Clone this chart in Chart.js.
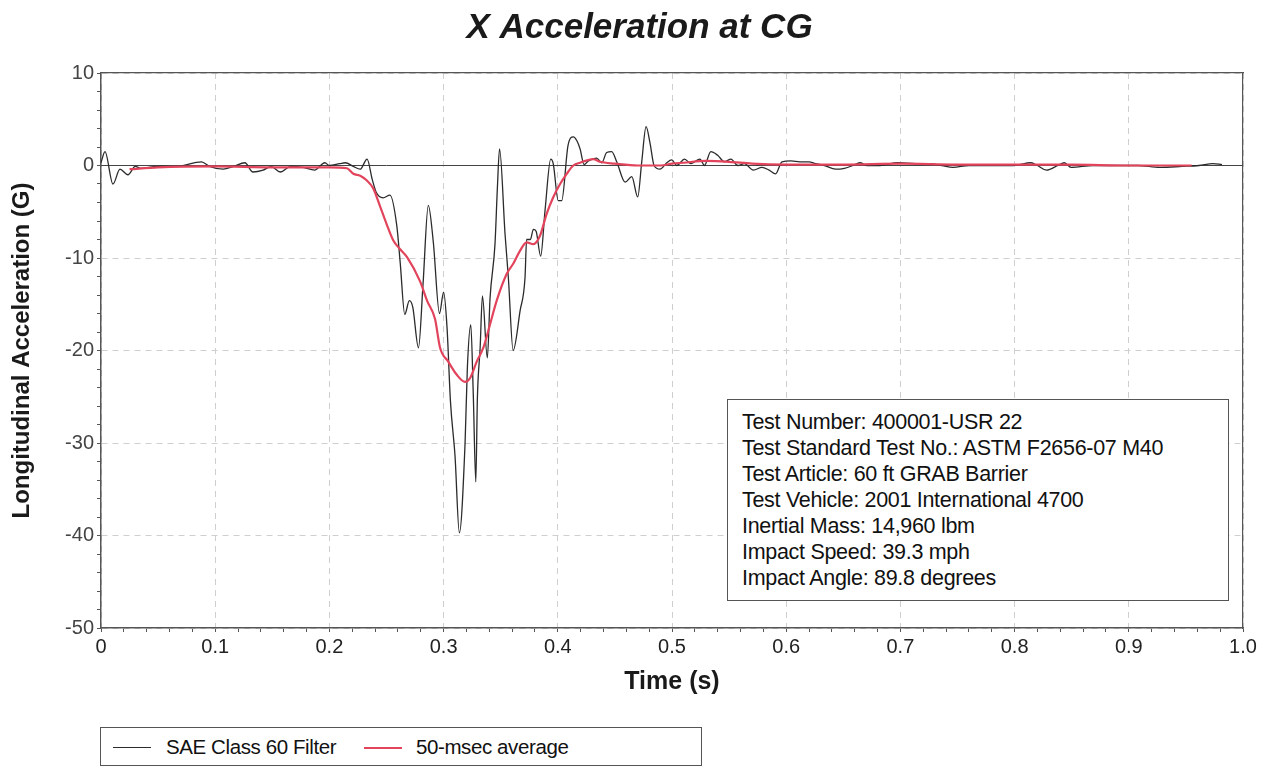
<!DOCTYPE html>
<html>
<head>
<meta charset="utf-8">
<script src="https://cdn.jsdelivr.net/npm/chart.js@4.4.1/dist/chart.umd.min.js"></script>
<style>
  html, body { margin: 0; padding: 0; background: #fff; }
  #wrap { position: relative; width: 1271px; height: 768px; font-family: "Liberation Sans", Arial, sans-serif; }
  #chart { position: absolute; left: 0; top: 0; }
  #info { position: absolute; left: 727px; top: 399px; width: 486px; height: 191px; border: 1px solid #555; background: #fff;
          padding: 9px 0 0 14px; box-sizing: content-box; font-size: 21.5px; line-height: 26px; color: #111; letter-spacing: -0.3px; }
  #info div { white-space: nowrap; }
  #legend { position: absolute; left: 100px; top: 727px; width: 600px; height: 37px; border: 1px solid #555; background: #fff;
            font-size: 20.5px; color: #111; letter-spacing: -0.4px; }
  .li { position: absolute; top: 0; height: 37px; line-height: 37px; white-space: nowrap; }
  .sw { position: absolute; top: 19px; width: 38px; }
</style>
</head>
<body>
<div id="wrap">
  <canvas id="chart" width="1271" height="768"></canvas>
  <div id="info"></div>
  <div id="legend"></div>
</div>
<script>
// ---- Data ----
const chartTitle = "X Acceleration at CG";
const xAxisTitle = "Time (s)";
const yAxisTitle = "Longitudinal Acceleration (G)";
const xTickLabels = ["0", "0.1", "0.2", "0.3", "0.4", "0.5", "0.6", "0.7", "0.8", "0.9", "1.0"];
const yTickLabels = ["-50", "-40", "-30", "-20", "-10", "0", "10"];
const seriesNames = ["SAE Class 60 Filter", "50-msec average"];

const blackTime = [0.000,0.0035,0.0105,0.0166,0.0236,0.030,0.035,0.049,0.066,0.088,0.095,0.107,0.116,0.126,0.133,0.142,0.149,0.157,0.166,0.177,0.187,0.196,0.200,0.209,0.214,0.221,0.227,0.233,0.2375,0.241,0.247,0.253,0.259,0.262,0.266,0.270,0.273,0.278,0.282,0.2866,0.291,0.2964,0.300,0.303,0.306,0.310,0.3138,0.3188,0.3208,0.3238,0.3260,0.3282,0.3296,0.332,0.334,0.3383,0.3407,0.345,0.3471,0.349,0.3538,0.3567,0.3609,0.367,0.3713,0.3727,0.376,0.3786,0.381,0.385,0.3888,0.3938,0.396,0.4004,0.4034,0.409,0.4136,0.4166,0.4195,0.423,0.4268,0.434,0.4385,0.4428,0.4472,0.4516,0.459,0.4648,0.470,0.4735,0.4773,0.4808,0.4843,0.4895,0.4954,0.4998,0.5042,0.511,0.5166,0.5245,0.5284,0.534,0.540,0.546,0.5517,0.5576,0.5634,0.5712,0.5788,0.585,0.5907,0.5963,0.6042,0.612,0.620,0.6257,0.6334,0.6433,0.651,0.6585,0.6646,0.6705,0.6821,0.6977,0.7133,0.725,0.7364,0.746,0.760,0.7756,0.7986,0.8144,0.820,0.828,0.8378,0.8436,0.8494,0.8687,0.8923,0.9079,0.9273,0.9466,0.9615,0.9737,0.9816];
const blackAccel = [0.3,1.5,-2.0,-0.4,-1.0,-0.1,-0.3,-0.1,-0.1,0.4,-0.1,-0.4,-0.1,0.3,-0.7,-0.5,-0.1,-0.7,-0.1,-0.2,-0.5,0.3,0.0,0.2,0.3,-0.1,-0.4,0.7,-1.5,-2.9,-3.5,-3.2,-6.5,-10.5,-16.1,-14.6,-15.3,-19.7,-12.8,-4.3,-8.3,-16.0,-13.7,-17.5,-25.5,-31.4,-39.7,-30.0,-21.9,-17.2,-24.8,-34.2,-25.1,-19.7,-14.1,-20.8,-14.3,-8.5,-2.4,1.8,-7.4,-12.1,-20.0,-15.7,-12.1,-8.0,-8.0,-6.9,-7.1,-9.8,-4.9,0.7,0.2,-3.8,-3.8,2.2,3.1,2.7,1.8,0.1,0.5,0.8,0.3,1.4,1.5,0.4,-1.8,-1.2,-3.4,0.4,4.2,2.4,0.0,-0.4,0.3,0.6,0.0,0.7,0.2,0.7,0.0,1.5,1.1,0.4,0.7,0.0,0.2,-0.5,-0.2,-0.5,-0.9,0.4,0.5,0.4,0.4,0.2,0.0,-0.4,-0.3,0.0,0.3,0.0,0.0,0.3,0.2,0.2,0.0,-0.2,0.0,0.0,0.0,0.3,0.0,-0.5,0.0,0.3,-0.2,0.0,0.0,0.0,-0.2,-0.1,0.0,0.2,0.1];

const avgTime = [0.025,0.05,0.1,0.15,0.2,0.2154,0.221,0.227,0.2326,0.2385,0.2443,0.250,0.256,0.2615,0.268,0.2793,0.2855,0.2925,0.2969,0.3041,0.3114,0.3188,0.3231,0.329,0.3348,0.3406,0.3465,0.3553,0.3611,0.367,0.3727,0.3786,0.3844,0.3903,0.3961,0.402,0.4078,0.4136,0.4195,0.431,0.437,0.45,0.47,0.49,0.5,0.51,0.53,0.55,0.57,0.6,0.65,0.7,0.75,0.8,0.85,0.9,0.955];
const avgAccel = [-0.4,-0.2,-0.1,-0.2,-0.2,-0.3,-0.9,-1.1,-1.6,-2.5,-4.4,-6.3,-8.1,-9.0,-9.9,-12.5,-14.6,-16.6,-19.7,-21.2,-22.6,-23.4,-23.0,-21.2,-19.7,-17.2,-14.6,-11.7,-10.6,-9.2,-8.3,-8.5,-7.6,-5.2,-3.4,-2.0,-0.9,0.0,0.3,0.7,0.4,0.2,0.0,0.0,0.2,0.3,0.5,0.4,0.2,0.1,0.1,0.2,0.1,0.1,0.1,0.0,0.0];

const infoLines = [
  "Test Number: 400001-USR 22",
  "Test Standard Test No.: ASTM F2656-07 M40",
  "Test Article: 60 ft GRAB Barrier",
  "Test Vehicle: 2001 International 4700",
  "Inertial Mass: 14,960 lbm",
  "Impact Speed: 39.3 mph",
  "Impact Angle: 89.8 degrees"
];

// ---- Styles ----
const blackColor = "#2b2b2b";
const redColor = "#e2445c";
const gridColor = "#cfcfcf";
const axisColor = "#555555";
const FONT = "'Liberation Sans', Arial, sans-serif";

const toPts = (xs, ys) => xs.map((x, i) => ({ x: x, y: ys[i] }));
const isMajorX = v => Math.abs(v * 10 - Math.round(v * 10)) < 1e-6;
const isMajorY = v => Math.abs(v / 10 - Math.round(v / 10)) < 1e-6;

const ctx = document.getElementById('chart').getContext('2d');
new Chart(ctx, {
  type: 'line',
  data: {
    datasets: [
      { label: 'zero', data: toPts([0, 1], [0, 0]), borderColor: '#444', borderWidth: 1, pointRadius: 0, order: 3, xAxisID: 'x', yAxisID: 'y' },
      { label: seriesNames[0], data: toPts(blackTime, blackAccel), borderColor: blackColor, borderWidth: 1.3,
        pointRadius: 0, cubicInterpolationMode: 'monotone', order: 2, xAxisID: 'x', yAxisID: 'y' },
      { label: seriesNames[1], data: toPts(avgTime, avgAccel), borderColor: redColor, borderWidth: 2.2,
        pointRadius: 0, cubicInterpolationMode: 'monotone', order: 1, xAxisID: 'x', yAxisID: 'y' }
    ]
  },
  options: {
    responsive: false,
    animation: false,
    layout: { padding: { left: 8, right: 0, top: 0, bottom: 65 } },
    plugins: {
      legend: { display: false },
      tooltip: { enabled: false },
      title: {
        display: true, text: chartTitle, color: '#1a1a1a',
        font: { family: FONT, size: 35, weight: 'bold', style: 'italic' },
        padding: { top: 7, bottom: 24 }
      }
    },
    scales: {
      x: {
        type: 'linear', position: 'bottom', min: 0, max: 1,
        afterFit: s => { s.height = 75; },
        ticks: {
          stepSize: 0.02, autoSkip: false, maxRotation: 0, padding: 3,
          color: '#222', font: { family: FONT, size: 20 },
          callback: v => isMajorX(v) ? xTickLabels[Math.round(v * 10)] : ''
        },
        grid: {
          color: c => (c.tick && isMajorX(c.tick.value)) ? gridColor : 'rgba(0,0,0,0)',
          tickColor: axisColor, tickLength: 4, lineWidth: 1
        },
        border: { display: true, color: axisColor, width: 1.5, dash: [6, 5] },
        title: { display: true, text: xAxisTitle, color: '#1a1a1a', font: { family: FONT, size: 25, weight: 'bold' }, padding: { top: 0, bottom: 6 } }
      },
      y: {
        type: 'linear', position: 'left', min: -50, max: 10,
        afterFit: s => { s.width = 93; },
        ticks: {
          stepSize: 2, autoSkip: false, padding: 3,
          color: '#444', font: { family: FONT, size: 20 },
          callback: v => isMajorY(v) ? yTickLabels[Math.round((v + 50) / 10)] : ''
        },
        grid: {
          color: c => (c.tick && isMajorY(c.tick.value)) ? gridColor : 'rgba(0,0,0,0)',
          tickColor: axisColor, tickLength: 4, lineWidth: 1
        },
        border: { display: true, color: axisColor, width: 1.5, dash: [6, 5] },
        title: { display: true, text: yAxisTitle, color: '#1a1a1a', font: { family: FONT, size: 24, weight: 'bold' }, padding: { top: 0, bottom: 0 } }
      },
      xTop: {
        type: 'linear', position: 'top', min: 0, max: 1, display: true,
        afterFit: s => { s.height = 0; },
        ticks: { display: false }, grid: { display: false, drawTicks: false },
        border: { display: true, color: axisColor, width: 1.2 }
      },
      yRight: {
        type: 'linear', position: 'right', min: -50, max: 10, display: true,
        afterFit: s => { s.width = 28; },
        ticks: { display: false }, grid: { display: false, drawTicks: false },
        border: { display: true, color: axisColor, width: 1.2 }
      }
    }
  }
});

// Info box text
const info = document.getElementById('info');
infoLines.forEach(t => { const d = document.createElement('div'); d.textContent = t; info.appendChild(d); });

// Legend
const legend = document.getElementById('legend');
const legendItems = [
  { name: seriesNames[0], color: blackColor, width: 1.5, sx: 12, tx: 65 },
  { name: seriesNames[1], color: redColor, width: 2.5, sx: 263, tx: 315 }
];
legendItems.forEach(it => {
  const sw = document.createElement('div');
  sw.className = 'sw';
  sw.style.left = it.sx + 'px';
  sw.style.borderTop = it.width + 'px solid ' + it.color;
  legend.appendChild(sw);
  const li = document.createElement('div');
  li.className = 'li';
  li.style.left = it.tx + 'px';
  li.textContent = it.name;
  legend.appendChild(li);
});
</script>
</body>
</html>
